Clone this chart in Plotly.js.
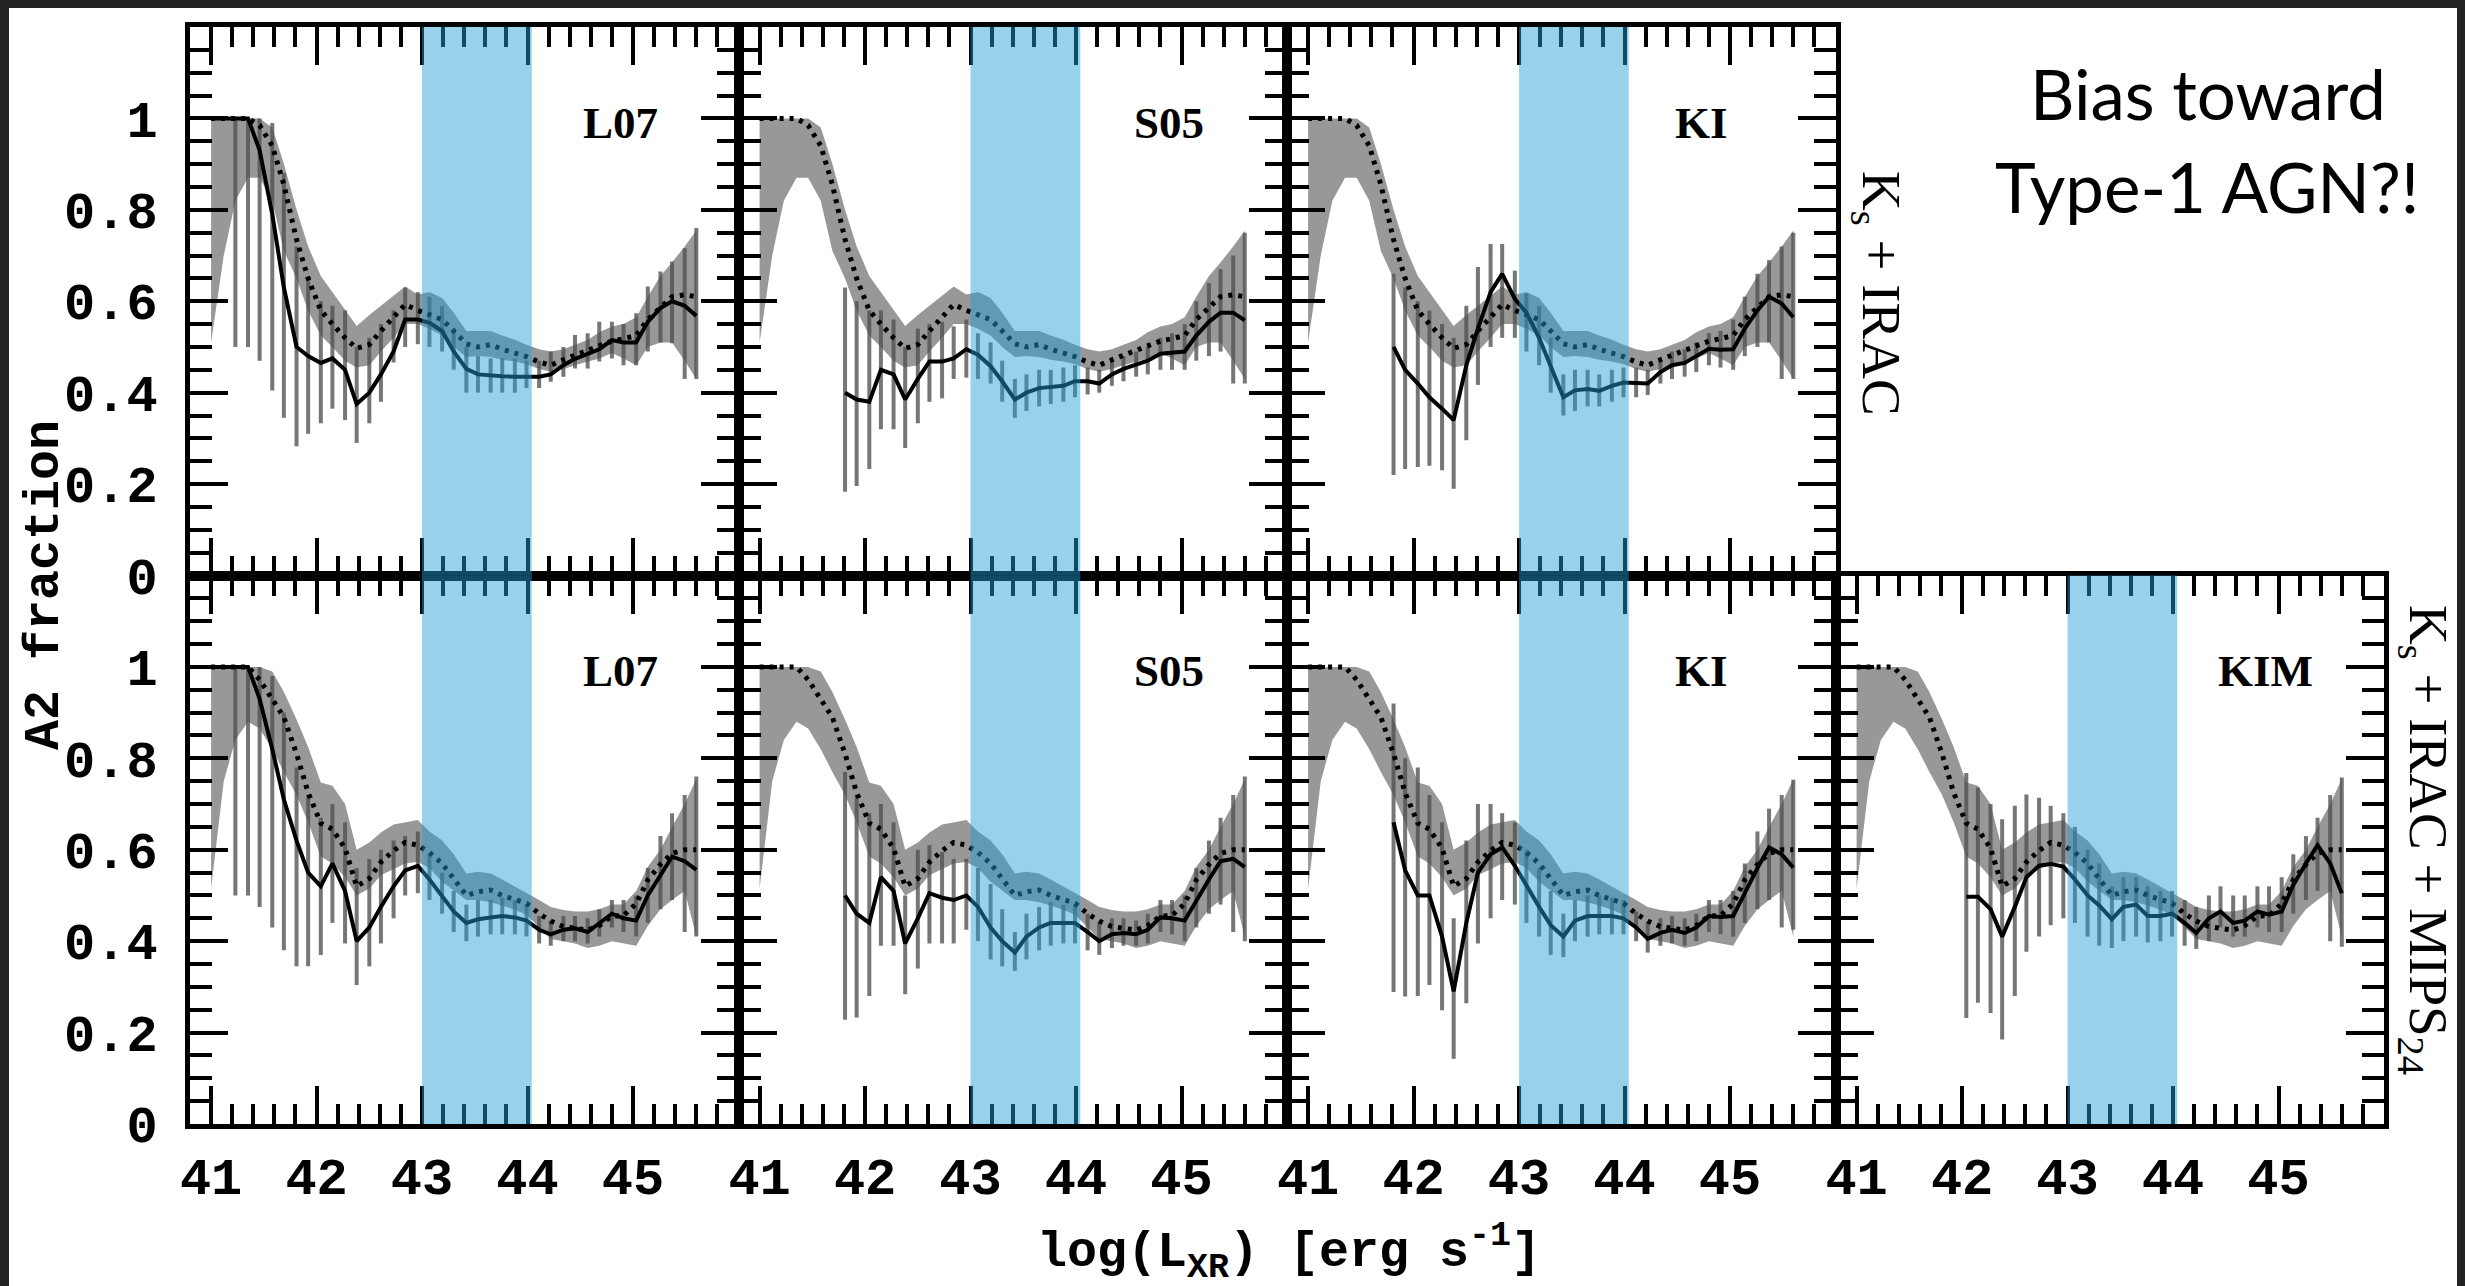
<!DOCTYPE html>
<html><head><meta charset="utf-8">
<script src="https://cdn.plot.ly/plotly-3.0.1.min.js"></script>
<style>html,body{margin:0;padding:0;background:#fff;} #chart{width:2465px;height:1286px;}</style>
</head><body><div id="chart"></div>
<script>
// ---------- data ----------
const xBins = [41.00,41.12,41.23,41.35,41.46,41.58,41.69,41.81,41.92,42.04,42.15,42.27,42.38,42.50,42.61,42.73,42.84,42.96,43.07,43.19,43.30,43.42,43.53,43.65,43.76,43.88,43.99,44.11,44.22,44.34,44.45,44.57,44.68,44.80,44.91,45.03,45.14,45.26,45.37,45.49,45.60];

// reference (dotted line + grey band), top row: Ks + IRAC
const refTop   = [1,1,1,1,0.985,0.94,0.855,0.735,0.65,0.58,0.55,0.52,0.497,0.505,0.535,0.565,0.593,0.58,0.57,0.56,0.535,0.507,0.50,0.505,0.495,0.486,0.479,0.467,0.46,0.472,0.482,0.493,0.504,0.513,0.518,0.525,0.56,0.585,0.61,0.614,0.61];
const refTopHi = [1,1,1,1,1,0.98,0.90,0.80,0.72,0.655,0.62,0.58,0.546,0.57,0.59,0.61,0.632,0.615,0.62,0.607,0.575,0.535,0.535,0.535,0.525,0.516,0.505,0.495,0.49,0.495,0.505,0.515,0.532,0.545,0.55,0.565,0.61,0.655,0.685,0.72,0.755];
const refTopLo = [0.51,0.70,0.82,0.87,0.87,0.82,0.71,0.65,0.58,0.525,0.50,0.47,0.455,0.46,0.49,0.52,0.55,0.55,0.54,0.525,0.50,0.478,0.48,0.478,0.472,0.468,0.462,0.452,0.446,0.452,0.46,0.468,0.475,0.487,0.475,0.46,0.50,0.51,0.51,0.47,0.43];

// reference, bottom row: Ks + IRAC + MIPS24
const refBot   = [1,1,1,1,0.972,0.928,0.89,0.81,0.725,0.658,0.645,0.603,0.52,0.537,0.573,0.598,0.616,0.61,0.594,0.57,0.535,0.50,0.508,0.512,0.50,0.49,0.483,0.46,0.444,0.432,0.427,0.424,0.434,0.455,0.456,0.482,0.534,0.568,0.592,0.60,0.60];
const refBotHi = [1,1,1,1,1,0.99,0.945,0.885,0.825,0.747,0.74,0.70,0.60,0.616,0.638,0.655,0.66,0.665,0.64,0.62,0.59,0.548,0.552,0.548,0.535,0.52,0.505,0.49,0.475,0.468,0.465,0.465,0.47,0.48,0.48,0.51,0.563,0.60,0.65,0.70,0.755];
const refBotLo = [0.515,0.75,0.84,0.88,0.865,0.82,0.77,0.72,0.66,0.585,0.57,0.54,0.50,0.515,0.544,0.557,0.57,0.573,0.56,0.53,0.51,0.49,0.49,0.485,0.478,0.469,0.458,0.43,0.405,0.40,0.395,0.385,0.39,0.40,0.395,0.39,0.433,0.47,0.49,0.51,0.41];

const N = null;
// top row, L07
const l07Top   = [1,1,1,1,0.93,0.79,0.63,0.50,0.48,0.465,0.475,0.45,0.375,0.40,0.44,0.49,0.56,0.56,0.553,0.535,0.49,0.452,0.44,0.437,0.436,0.435,0.435,0.435,0.44,0.46,0.474,0.484,0.495,0.515,0.51,0.51,0.555,0.585,0.60,0.59,0.568];
const l07TopLo = [1,1,0.50,0.50,0.47,0.405,0.345,0.283,0.31,0.333,0.365,0.34,0.29,0.333,0.38,0.466,0.50,0.506,0.50,0.49,0.45,0.40,0.40,0.40,0.40,0.40,0.41,0.41,0.424,0.435,0.453,0.453,0.468,0.475,0.46,0.46,0.49,0.51,0.508,0.43,0.43];
const l07TopHi = [1,1,1,1,1,0.99,0.88,0.72,0.65,0.60,0.59,0.58,0.50,0.52,0.55,0.58,0.63,0.62,0.61,0.59,0.54,0.50,0.48,0.475,0.475,0.475,0.47,0.47,0.49,0.50,0.526,0.53,0.555,0.555,0.55,0.574,0.632,0.665,0.687,0.716,0.76];
// top row, S05
const s05Top   = [N,N,N,N,N,N,N,0.40,0.385,0.38,0.45,0.44,0.385,0.43,0.468,0.468,0.475,0.495,0.483,0.458,0.425,0.385,0.40,0.41,0.412,0.415,0.425,0.425,0.42,0.44,0.452,0.462,0.47,0.485,0.488,0.49,0.525,0.555,0.575,0.575,0.558];
const s05TopLo = [N,N,N,N,N,N,N,0.183,0.196,0.233,0.32,0.32,0.279,0.333,0.38,0.3875,0.43,0.433,0.43,0.42,0.38,0.345,0.36,0.37,0.375,0.38,0.39,0.396,0.40,0.415,0.425,0.435,0.44,0.45,0.45,0.45,0.47,0.48,0.49,0.42,0.42];
const s05TopHi = [N,N,N,N,N,N,N,0.63,0.60,0.58,0.58,0.56,0.50,0.54,0.55,0.555,0.545,0.56,0.53,0.51,0.47,0.43,0.44,0.45,0.45,0.455,0.46,0.455,0.45,0.47,0.48,0.49,0.50,0.52,0.53,0.55,0.60,0.64,0.67,0.70,0.75];
// top row, KI
const kiTop   = [N,N,N,N,N,N,N,0.50,0.45,0.42,0.39,0.365,0.34,0.46,0.54,0.62,0.66,0.605,0.575,0.52,0.46,0.39,0.405,0.408,0.404,0.415,0.422,0.42,0.42,0.445,0.46,0.465,0.48,0.496,0.494,0.495,0.54,0.58,0.61,0.595,0.565];
const kiTopLo = [N,N,N,N,N,N,N,0.22,0.233,0.2375,0.24,0.23,0.19,0.296,0.417,0.50,0.52,0.52,0.49,0.46,0.40,0.35,0.36,0.37,0.37,0.38,0.39,0.39,0.395,0.42,0.43,0.435,0.445,0.46,0.455,0.45,0.48,0.50,0.51,0.43,0.43];
const kiTopHi = [N,N,N,N,N,N,N,0.66,0.63,0.60,0.58,0.55,0.52,0.59,0.675,0.725,0.725,0.667,0.617,0.59,0.52,0.44,0.45,0.45,0.44,0.45,0.455,0.455,0.45,0.47,0.49,0.495,0.51,0.53,0.535,0.56,0.61,0.66,0.69,0.72,0.75];
// bottom row, L07
const l07Bot   = [1,1,1,1,0.93,0.82,0.71,0.62,0.55,0.52,0.57,0.51,0.40,0.43,0.475,0.52,0.555,0.565,0.535,0.50,0.465,0.44,0.448,0.452,0.455,0.452,0.445,0.425,0.415,0.425,0.428,0.42,0.44,0.46,0.45,0.445,0.50,0.545,0.585,0.575,0.556];
const l07BotLo = [1,1,0.50,0.50,0.475,0.43,0.38,0.345,0.345,0.37,0.44,0.395,0.304,0.345,0.395,0.45,0.50,0.505,0.49,0.46,0.42,0.40,0.41,0.415,0.415,0.415,0.41,0.395,0.39,0.40,0.40,0.395,0.41,0.43,0.42,0.41,0.44,0.47,0.49,0.42,0.41];
const l07BotHi = [1,1,1,1,1,0.98,0.90,0.78,0.72,0.67,0.70,0.66,0.56,0.58,0.60,0.62,0.63,0.64,0.59,0.55,0.51,0.48,0.49,0.49,0.495,0.49,0.48,0.455,0.445,0.455,0.455,0.45,0.47,0.49,0.49,0.50,0.56,0.63,0.68,0.72,0.76];
// bottom row, S05
const s05Bot   = [N,N,N,N,N,N,N,0.50,0.46,0.44,0.54,0.51,0.395,0.45,0.505,0.495,0.49,0.50,0.475,0.43,0.40,0.375,0.41,0.43,0.44,0.44,0.44,0.42,0.40,0.415,0.418,0.415,0.425,0.452,0.45,0.445,0.49,0.535,0.575,0.58,0.562];
const s05BotLo = [N,N,N,N,N,N,N,0.228,0.233,0.28,0.39,0.39,0.284,0.34,0.395,0.395,0.395,0.425,0.40,0.36,0.345,0.335,0.36,0.38,0.39,0.395,0.395,0.38,0.37,0.385,0.39,0.39,0.395,0.42,0.415,0.40,0.43,0.46,0.48,0.42,0.40];
const s05BotHi = [N,N,N,N,N,N,N,0.77,0.72,0.68,0.70,0.66,0.50,0.60,0.61,0.595,0.58,0.58,0.56,0.525,0.47,0.42,0.46,0.475,0.485,0.48,0.48,0.46,0.44,0.45,0.45,0.445,0.46,0.49,0.49,0.50,0.56,0.62,0.67,0.72,0.76];
// bottom row, KI
const kiBot   = [N,N,N,N,N,N,N,0.66,0.555,0.50,0.50,0.41,0.29,0.44,0.55,0.59,0.605,0.565,0.52,0.475,0.435,0.41,0.445,0.455,0.455,0.455,0.45,0.43,0.405,0.418,0.425,0.418,0.43,0.455,0.453,0.455,0.505,0.56,0.605,0.59,0.561];
const kiBotLo = [N,N,N,N,N,N,N,0.289,0.279,0.28,0.304,0.249,0.143,0.264,0.395,0.45,0.49,0.48,0.44,0.41,0.37,0.365,0.40,0.41,0.415,0.415,0.415,0.40,0.375,0.39,0.395,0.39,0.40,0.42,0.415,0.41,0.44,0.47,0.49,0.43,0.425];
const kiBotHi = [N,N,N,N,N,N,N,0.92,0.80,0.78,0.72,0.66,0.45,0.62,0.70,0.70,0.68,0.66,0.60,0.56,0.51,0.46,0.49,0.50,0.50,0.495,0.49,0.465,0.44,0.45,0.455,0.45,0.46,0.49,0.49,0.51,0.57,0.64,0.69,0.72,0.753];
// bottom row, KIM
const kimBot   = [N,N,N,N,N,N,N,N,N,0.497,0.497,0.47,0.41,0.475,0.54,0.565,0.569,0.563,0.535,0.50,0.478,0.448,0.475,0.48,0.455,0.455,0.46,0.44,0.418,0.45,0.465,0.44,0.445,0.465,0.458,0.465,0.523,0.57,0.61,0.57,0.505];
const kimBotLo = [N,N,N,N,N,N,N,N,N,0.232,0.265,0.243,0.185,0.28,0.377,0.41,0.435,0.45,0.44,0.41,0.39,0.385,0.40,0.41,0.397,0.40,0.41,0.39,0.383,0.40,0.43,0.41,0.41,0.43,0.42,0.42,0.46,0.49,0.51,0.40,0.388];
const kimBotHi = [N,N,N,N,N,N,N,N,N,0.768,0.736,0.70,0.667,0.696,0.721,0.714,0.696,0.68,0.65,0.60,0.57,0.52,0.54,0.54,0.52,0.51,0.51,0.49,0.475,0.50,0.52,0.50,0.50,0.52,0.52,0.54,0.59,0.63,0.67,0.72,0.758];

const panelLabels = ['L07','S05','KI','L07','S05','KI','KIM'];
const xTickVals = [41,42,43,44,45];
const xTickText = ['41','42','43','44','45'];
const yTickVals = [0,0.2,0.4,0.6,0.8,1];
const yTickText = ['0','0.2','0.4','0.6','0.8','1'];
const bandRange = [43, 44.04];

// ---------- layout geometry ----------
const W = 2465, H = 1286;
const colEdges = [190, 738.5, 1287, 1835.5, 2384];
const rowEdges = [27, 575.5, 1124];
const px = v => v / W;
const py = v => 1 - v / H;

const panels = [
  {row:0,col:0,y:l07Top,lo:l07TopLo,hi:l07TopHi,ref:[refTop,refTopLo,refTopHi],lx:44.88},
  {row:0,col:1,y:s05Top,lo:s05TopLo,hi:s05TopHi,ref:[refTop,refTopLo,refTopHi],lx:44.88},
  {row:0,col:2,y:kiTop,lo:kiTopLo,hi:kiTopHi,ref:[refTop,refTopLo,refTopHi],lx:44.73},
  {row:1,col:0,y:l07Bot,lo:l07BotLo,hi:l07BotHi,ref:[refBot,refBotLo,refBotHi],lx:44.88},
  {row:1,col:1,y:s05Bot,lo:s05BotLo,hi:s05BotHi,ref:[refBot,refBotLo,refBotHi],lx:44.88},
  {row:1,col:2,y:kiBot,lo:kiBotLo,hi:kiBotHi,ref:[refBot,refBotLo,refBotHi],lx:44.73},
  {row:1,col:3,y:kimBot,lo:kimBotLo,hi:kimBotHi,ref:[refBot,refBotLo,refBotHi],lx:44.88}
];

const tickFont = {family:'Liberation Mono, DejaVu Sans Mono, monospace', size:52, color:'#000', weight:'bold'};
const traces = [];
const layout = {
  width: W, height: H,
  margin: {l:0,r:0,t:0,b:0},
  paper_bgcolor: '#ffffff',
  plot_bgcolor: 'rgba(0,0,0,0)',
  showlegend: false,
  hovermode: false,
  shapes: [],
  annotations: []
};

panels.forEach((p, i) => {
  const n = i + 1;
  const xs = 'x' + (n === 1 ? '' : n), ys = 'y' + (n === 1 ? '' : n);
  const xk = 'xaxis' + (n === 1 ? '' : n), yk = 'yaxis' + (n === 1 ? '' : n);
  layout[xk] = {
    domain: [px(colEdges[p.col]), px(colEdges[p.col + 1])],
    range: [40.8, 46.0], anchor: ys,
    showline: true, linewidth: 5, linecolor: '#000', mirror: 'allticks',
    ticks: 'inside', ticklen: 38, tickwidth: 4, tickcolor: '#000',
    tickmode: 'array', tickvals: xTickVals, ticktext: xTickText,
    showticklabels: p.row === 1, tickfont: tickFont, ticklabelstandoff: 3,
    minor: {ticks:'inside', ticklen:20, tickwidth:4, tickcolor:'#000', tickmode:'linear', tick0:41, dtick:0.2, showgrid:false},
    showgrid: false, zeroline: false, fixedrange: true
  };
  layout[yk] = {
    domain: [py(rowEdges[p.row + 1]), py(rowEdges[p.row])],
    range: [0, 1.2], anchor: xs,
    showline: true, linewidth: 5, linecolor: '#000', mirror: 'allticks',
    ticks: 'inside', ticklen: 38, tickwidth: 4, tickcolor: '#000',
    tickmode: 'array', tickvals: yTickVals, ticktext: yTickText,
    showticklabels: p.col === 0, tickfont: tickFont, ticklabelstandoff: 17,
    minor: {ticks:'inside', ticklen:22, tickwidth:4, tickcolor:'#000', tickmode:'linear', tick0:0, dtick:0.05, showgrid:false},
    showgrid: false, zeroline: false, fixedrange: true
  };
  const [ref, refLo, refHi] = p.ref;
  traces.push({x:xBins, y:refLo, xaxis:xs, yaxis:ys, mode:'lines', line:{width:0, color:'rgba(0,0,0,0)'}, hoverinfo:'skip'});
  traces.push({x:xBins, y:refHi, xaxis:xs, yaxis:ys, mode:'lines', line:{width:0, color:'rgba(0,0,0,0)'}, fill:'tonexty', fillcolor:'rgb(152,152,152)', hoverinfo:'skip'});
  traces.push({x:xBins, y:p.y, xaxis:xs, yaxis:ys, mode:'markers', marker:{size:1, opacity:0},
    error_y:{type:'data', symmetric:false,
      array: p.y.map((v, k) => v === null ? null : p.hi[k] - v),
      arrayminus: p.y.map((v, k) => v === null ? null : v - p.lo[k]),
      color:'rgba(80,80,80,0.78)', thickness:4, width:0},
    hoverinfo:'skip'});
  traces.push({x:xBins, y:ref, xaxis:xs, yaxis:ys, mode:'lines', line:{width:5, color:'#000', dash:'4px,6px'}, hoverinfo:'skip'});
  traces.push({x:xBins, y:p.y, xaxis:xs, yaxis:ys, mode:'lines', line:{width:4, color:'#000'}, connectgaps:false, hoverinfo:'skip'});

  layout.shapes.push({type:'rect', xref:xs, yref:ys + ' domain', x0:bandRange[0], x1:bandRange[1], y0:0, y1:1,
    fillcolor:'rgba(36,158,214,0.47)', line:{width:0}, layer:'above'});
  layout.annotations.push({xref:xs, yref:ys, x:p.lx, y:0.99, text:panelLabels[i], showarrow:false,
    xanchor:'center', yanchor:'middle', font:{family:'Liberation Serif, serif', size:45, color:'#000', weight:'bold'}});
});

// dark frame strips of the slide
layout.shapes.push({type:'rect', xref:'paper', yref:'paper', x0:0, x1:px(9), y0:0, y1:1, fillcolor:'#222222', line:{width:0}, layer:'below'});
layout.shapes.push({type:'rect', xref:'paper', yref:'paper', x0:0, x1:1, y0:py(8), y1:1, fillcolor:'#222222', line:{width:0}, layer:'below'});
layout.shapes.push({type:'rect', xref:'paper', yref:'paper', x0:px(2457), x1:1, y0:0, y1:1, fillcolor:'#222222', line:{width:0}, layer:'below'});

const labelFont = {family:'Liberation Mono, DejaVu Sans Mono, monospace', size:50, color:'#000', weight:'bold'};
layout.annotations.push(
  {xref:'paper', yref:'paper', x:px(44), y:py(585), text:'A2 fraction', textangle:-90, showarrow:false, xanchor:'center', yanchor:'middle', font:labelFont},
  {xref:'paper', yref:'paper', x:px(1289), y:py(1252), text:'log(L<sub>XR</sub>) [erg s<sup>-1</sup>]', showarrow:false, xanchor:'center', yanchor:'middle', font:labelFont},
  {xref:'paper', yref:'paper', x:px(1877), y:py(294), text:'K<sub>s</sub> + IRAC', textangle:90, showarrow:false, xanchor:'center', yanchor:'middle', font:{family:'Liberation Serif, serif', size:55, color:'#000'}},
  {xref:'paper', yref:'paper', x:px(2425), y:py(840), text:'K<sub>s</sub> + IRAC + MIPS<sub>24</sub>', textangle:90, showarrow:false, xanchor:'center', yanchor:'middle', font:{family:'Liberation Serif, serif', size:55, color:'#000'}},
  {xref:'paper', yref:'paper', x:px(2208), y:py(94), text:'Bias toward', showarrow:false, xanchor:'center', yanchor:'middle', font:{family:'Lato, Noto Sans, sans-serif', size:69, color:'#000'}},
  {xref:'paper', yref:'paper', x:px(2207), y:py(186), text:'Type-1 AGN?!', showarrow:false, xanchor:'center', yanchor:'middle', font:{family:'Lato, Noto Sans, sans-serif', size:69, color:'#000'}}
);

Plotly.newPlot('chart', traces, layout, {staticPlot:true, displayModeBar:false});
</script></body></html>
